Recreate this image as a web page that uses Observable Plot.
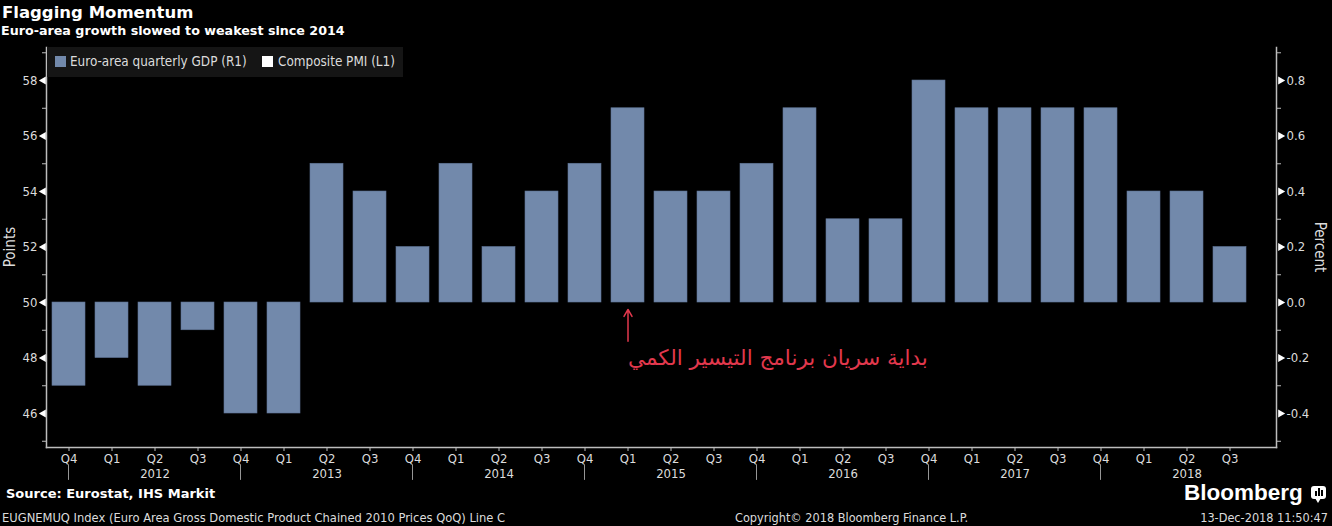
<!DOCTYPE html>
<html>
<head>
<meta charset="utf-8">
<script src="https://cdn.jsdelivr.net/npm/d3@7"></script>
<script src="https://cdn.jsdelivr.net/npm/@observablehq/plot@0.6"></script>
<style>
  html, body { margin: 0; padding: 0; background: #000; }
  body { width: 1332px; height: 526px; position: relative; overflow: hidden; color: #dcdcdc; }
  .abs { position: absolute; white-space: nowrap; }
  .bold { font-family: "DejaVu Sans", sans-serif; font-weight: bold; color: #fff; }
  .light { font-family: "Liberation Sans Narrow", "DejaVu Sans Condensed", "Roboto Condensed", "Liberation Sans", sans-serif; }
  .rot { position: absolute; white-space: nowrap; transform-origin: center center; }
</style>
</head>
<body>
<div class="abs bold" style="left:2px;top:3px;font-size:16.5px;">Flagging Momentum</div>
<div class="abs bold" style="left:1px;top:23px;font-size:12.7px;">Euro-area growth slowed to weakest since 2014</div>
<div id="chart" class="abs" style="left:0;top:40px;"></div>
<div class="abs light" style="left:47px;top:47px;width:356px;height:30px;background:#151515;font-size:13.4px;color:#dcdcdc;">
  <span class="abs" style="left:8px;top:9px;width:11px;height:11px;background:#7289ab;"></span>
  <span class="abs" style="left:23px;top:7px;">Euro-area quarterly GDP (R1)</span>
  <span class="abs" style="left:215px;top:9px;width:11px;height:11px;background:#fff;"></span>
  <span class="abs" style="left:231px;top:7px;">Composite PMI (L1)</span>
</div>
<div class="rot light" style="left:10px;top:247px;font-size:15px;color:#dcdcdc;transform:translate(-50%,-50%) rotate(-90deg);">Points</div>
<div class="rot light" style="left:1320px;top:247px;font-size:15px;color:#dcdcdc;transform:translate(-50%,-50%) rotate(90deg);">Percent</div>
<div class="abs bold" style="left:6px;top:486px;font-size:13px;">Source: Eurostat, IHS Markit</div>
<div class="abs light" style="left:2px;top:510px;font-size:12.8px;">EUGNEMUQ Index (Euro Area Gross Domestic Product Chained 2010 Prices QoQ) Line C</div>
<div class="abs light" style="left:735px;top:510px;font-size:12.6px;">Copyright© 2018 Bloomberg Finance L.P.</div>
<div class="abs light" style="right:4px;top:510px;font-size:12.6px;">13-Dec-2018 11:50:47</div>
<div class="abs" style="left:1184px;top:480px;font-family:'Liberation Sans',sans-serif;font-weight:bold;font-size:22.5px;color:#fff;">Bloomberg</div>
<div class="abs" style="left:1311px;top:486px;width:15px;height:13px;background:#fff;border-radius:3px;"></div>
<div class="abs" style="left:1315px;top:498px;width:0;height:0;border-left:3px solid transparent;border-right:3px solid transparent;border-top:5px solid #fff;"></div>
<div class="abs" style="left:1315px;top:491px;width:2px;height:5px;background:#000;"></div>
<div class="abs" style="left:1318px;top:488px;width:2px;height:8px;background:#000;"></div>
<div class="abs" style="left:1321px;top:490px;width:2px;height:6px;background:#000;"></div>
<script>
// ---- data ----
const quarterLabels = ["Q4","Q1","Q2","Q3","Q4","Q1","Q2","Q3","Q4","Q1","Q2","Q3","Q4","Q1",
                       "Q2","Q3","Q4","Q1","Q2","Q3","Q4","Q1","Q2","Q3","Q4","Q1","Q2","Q3"];
const yearLabels = ["2012","2013","2014","2015","2016","2017","2018"];
const gdpPct = [-0.3,-0.2,-0.3,-0.1,-0.4,-0.4,0.5,0.4,0.2,0.5,0.2,0.4,0.5,0.7,
                0.4,0.4,0.5,0.7,0.3,0.3,0.8,0.7,0.7,0.7,0.7,0.4,0.4,0.2];
const pctTicks = [-0.4,-0.2,0.0,0.2,0.4,0.6,0.8];
const pctMinorTicks = [-0.5,-0.3,-0.1,0.1,0.3,0.5,0.7,0.9];
const annotationAt = "2015 Q1";
const annotationText = "بداية سريان برنامج التيسير الكمي";

// ---- build ----
const ids = quarterLabels.map((q, i) => yearLabels[Math.floor(i / 4)] + " " + q);
const data = ids.map((id, i) => ({id, q: quarterLabels[i], v: gdpPct[i]}));
const yearMarks = yearLabels.map((y, g) => ({id: ids[g * 4 + 2], year: y}));
const separatorIds = yearLabels.map((y, g) => ids[g * 4]);
const labelOf = new Map(data.map(d => [d.id, d.q]));
const axisColor = "#bdbdbd";
const textColor = "#dcdcdc";
const red = "#e2384d";
const barInset = 16.1;

const chart = Plot.plot({
  width: 1332,
  height: 446,
  marginTop: 7,
  marginBottom: 39,
  marginLeft: 46,
  marginRight: 56,
  style: {background: "#000", color: textColor, fontFamily: "'Liberation Sans Narrow','DejaVu Sans Condensed','Roboto Condensed','Liberation Sans',sans-serif", fontSize: "13px", overflow: "visible"},
  x: {type: "band", domain: ids, range: [40.78, 1256.72], paddingInner: 0.23, paddingOuter: 0.115},
  y: {domain: [-0.5225, 0.919]},
  marks: [
    Plot.barY(data, {x: "id", y: "v", fill: "#7289ab", stroke: "#5f7496", strokeWidth: 0.6}),
    Plot.frame({anchor: "left", stroke: axisColor, strokeWidth: 1.5}),
    Plot.frame({anchor: "right", stroke: axisColor, strokeWidth: 1.5}),
    Plot.frame({anchor: "bottom", stroke: axisColor, strokeWidth: 1.5}),
    Plot.axisY(pctMinorTicks, {anchor: "left", tickSize: 4, tickFormat: () => "", stroke: axisColor, label: null}),
    Plot.axisY(pctMinorTicks, {anchor: "right", tickSize: 4, tickFormat: () => "", stroke: axisColor, label: null}),
    Plot.axisY(pctTicks, {anchor: "left", tickSize: 0, tickPadding: 9, tickFormat: d => String(Math.round(50 + d * 10)), fill: textColor, label: null}),
    Plot.axisY(pctTicks, {anchor: "right", tickSize: 0, tickPadding: 10, tickFormat: d => d.toFixed(1), fill: textColor, label: null}),
    Plot.dot(pctTicks, {y: d => d, frameAnchor: "left", symbol: "triangle", r: 3, rotate: -90, fill: "#fff", dx: -3}),
    Plot.dot(pctTicks, {y: d => d, frameAnchor: "right", symbol: "triangle", r: 3, rotate: 90, fill: "#fff", dx: 4}),
    Plot.axisX({tickSize: 4, tickPadding: 2, tickFormat: d => labelOf.get(d), stroke: axisColor, fill: textColor, label: null}),
    Plot.barY(separatorIds, {x: d => d, y1: () => -0.585, y2: () => -0.641, fill: axisColor, insetLeft: barInset, insetRight: barInset}),
    Plot.text(yearMarks, {x: "id", text: "year", frameAnchor: "bottom", dy: 30, fill: textColor}),
    Plot.arrow([annotationAt], {x1: d => d, x2: d => d, y1: -0.14, y2: -0.025, stroke: red, strokeWidth: 1.5, headLength: 8}),
    Plot.text([annotationText], {x: () => annotationAt, y: -0.2, text: d => d, textAnchor: "start", fill: red, fontSize: 21.5, fontFamily: "'DejaVu Sans', sans-serif"})
  ]
});
document.getElementById("chart").appendChild(chart);
</script>
</body>
</html>
